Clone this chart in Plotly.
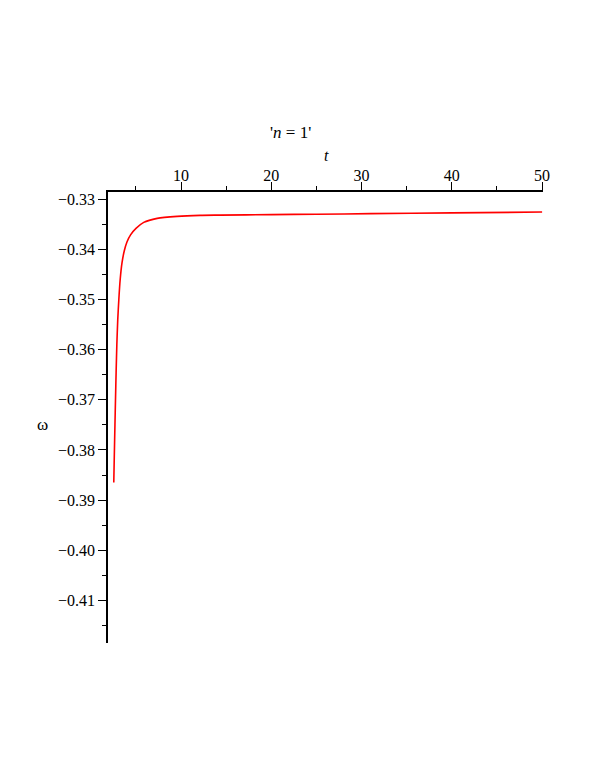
import plotly.graph_objects as go

# values (Maple-style plot, n = 1)
t = [2.54, 2.60, 2.67, 2.73, 2.80, 2.88, 2.98, 3.10, 3.25, 3.45, 3.70, 4.0,
     4.4, 5.0, 5.86, 7.35, 9.56, 12.1, 14.35, 20, 25, 31, 40, 50]
omega = [-0.3865, -0.3810, -0.3750, -0.3700, -0.3645, -0.3590, -0.3540, -0.3500,
         -0.3460, -0.3427, -0.3403, -0.3385, -0.3371, -0.3358, -0.3346, -0.3338,
         -0.3334, -0.3332, -0.33315, -0.33305, -0.33297, -0.33286, -0.3327,
         -0.33254]

serif = "Liberation Serif"
OFF = 8  # page body margin

fig = go.Figure()
fig.add_trace(go.Scatter(
    x=t, y=omega, mode="lines",
    line=dict(color="#ff0000", width=1.6, shape="spline", smoothing=0.6),
    hoverinfo="skip",
))

L, T, PW, PH = 107.5 - OFF, 192 - OFF, 436, 451
fig.update_layout(
    width=598, height=770,
    margin=dict(l=L, r=598 - L - PW, t=T, b=770 - T - PH),
    paper_bgcolor="white", plot_bgcolor="white",
    showlegend=False,
    font=dict(family=serif, size=16, color="black"),
    xaxis=dict(
        side="top", range=[1.9, 50.1], dtick=10, tick0=0,
        showline=True, linecolor="black", linewidth=1.5,
        ticks="outside", ticklen=8, tickcolor="black", tickwidth=1.2,
        minor=dict(dtick=5, ticks="outside", ticklen=4, tickcolor="black"),
        showgrid=False, zeroline=False, automargin=False,
        tickfont=dict(family=serif, size=16),
        ticklabelstandoff=-5,
    ),
    yaxis=dict(
        range=[-0.4185, -0.32854], dtick=0.01, tick0=-0.33, tickformat=".2f",
        showline=True, linecolor="black", linewidth=1.5,
        ticks="outside", ticklen=8, tickcolor="black", tickwidth=1.2,
        minor=dict(dtick=0.005, ticks="outside", ticklen=4, tickcolor="black"),
        showgrid=False, zeroline=False, automargin=False,
        tickfont=dict(family=serif, size=16),
        ticklabelstandoff=0,
    ),
)

# annotations placed by page pixel position (centre of text)
labels = [("'<i>n</i> = 1'", 290, 133, 17), ("<i>t</i>", 327, 155, 16), ("ω", 42, 424, 17)]
for text, px_, py_, size in labels:
    fig.add_annotation(
        text=text, showarrow=False, xref="paper", yref="paper",
        xanchor="center", yanchor="middle",
        x=(px_ - OFF - L) / PW, y=(T + PH - (py_ - OFF)) / PH,
        font=dict(family=serif, size=size),
    )

fig.write_html("out.html")
